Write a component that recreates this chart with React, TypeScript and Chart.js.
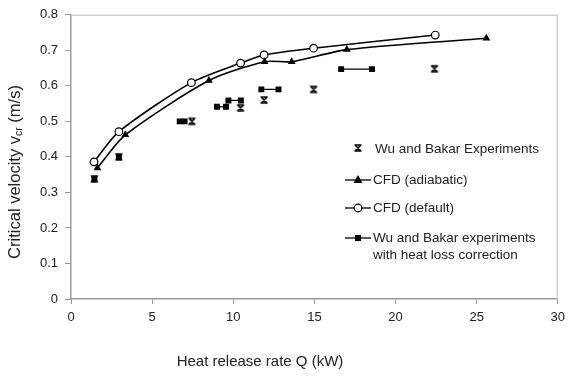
import React, { useEffect, useRef } from "react";
import { Chart, registerables } from "chart.js";

Chart.register(...registerables);

// Wu and Bakar Experiments (crosses)
const expQ = [1.44, 2.95, 7.45, 10.45, 11.9, 14.95, 22.4];
const expV = [0.338, 0.40, 0.50, 0.538, 0.56, 0.59, 0.648];

// CFD (adiabatic)
const adiaQ = [1.63, 3.35, 8.5, 11.93, 13.6, 17.0, 25.6];
const adiaV = [0.369, 0.462, 0.615, 0.668, 0.668, 0.702, 0.734];

// CFD (default)
const defQ = [1.42, 2.95, 7.42, 10.45, 11.9, 14.95, 22.45];
const defV = [0.386, 0.471, 0.609, 0.664, 0.687, 0.706, 0.743];

// Wu and Bakar experiments with heat loss correction (ranges)
const hlQLow = [1.44, 2.95, 6.7, 9.0, 9.7, 11.73, 16.65];
const hlQHigh = [1.44, 2.95, 7.0, 9.55, 10.47, 12.79, 18.55];
const hlV = [0.338, 0.40, 0.50, 0.541, 0.559, 0.59, 0.647];

const xTicks = [0, 5, 10, 15, 20, 25, 30];
const yTicks = [0, 0.1, 0.2, 0.3, 0.4, 0.5, 0.6, 0.7, 0.8];

const FONT = "'Liberation Sans', Arial, sans-serif";

function paintCross(ctx: CanvasRenderingContext2D, x: number, y: number) {
  ctx.save();
  ctx.strokeStyle = "#000";
  ctx.lineWidth = 1.7;
  ctx.beginPath();
  ctx.moveTo(x - 3, y - 3);
  ctx.lineTo(x + 3, y + 3);
  ctx.moveTo(x + 3, y - 3);
  ctx.lineTo(x - 3, y + 3);
  ctx.moveTo(x - 3.5, y - 3);
  ctx.lineTo(x + 3.5, y - 3);
  ctx.moveTo(x - 3.5, y + 3);
  ctx.lineTo(x + 3.5, y + 3);
  ctx.stroke();
  ctx.restore();
}
function makeCrossImage() {
  const c = document.createElement("canvas");
  c.width = 10;
  c.height = 10;
  const g = c.getContext("2d")!;
  paintCross(g, 5, 5);
  return c;
}
function drawTri(ctx: CanvasRenderingContext2D, x: number, y: number) {
  ctx.save();
  ctx.fillStyle = "#000";
  ctx.beginPath();
  ctx.moveTo(x, y - 5);
  ctx.lineTo(x + 4.5, y + 3);
  ctx.lineTo(x - 4.5, y + 3);
  ctx.closePath();
  ctx.fill();
  ctx.restore();
}
function drawCirc(ctx: CanvasRenderingContext2D, x: number, y: number) {
  ctx.save();
  ctx.fillStyle = "#fff";
  ctx.strokeStyle = "#000";
  ctx.lineWidth = 1.2;
  ctx.beginPath();
  ctx.arc(x, y, 3.8, 0, Math.PI * 2);
  ctx.fill();
  ctx.stroke();
  ctx.restore();
}
function drawSq(ctx: CanvasRenderingContext2D, x: number, y: number) {
  ctx.save();
  ctx.fillStyle = "#000";
  ctx.fillRect(x - 3, y - 3, 6, 6);
  ctx.restore();
}
function hline(ctx: CanvasRenderingContext2D, x1: number, x2: number, y: number) {
  ctx.save();
  ctx.strokeStyle = "#000";
  ctx.lineWidth = 1.3;
  ctx.beginPath();
  ctx.moveTo(x1, y);
  ctx.lineTo(x2, y);
  ctx.stroke();
  ctx.restore();
}

const overlay = {
  id: "overlay",
  beforeDatasetsDraw(chart: any) {
    const ctx = chart.ctx as CanvasRenderingContext2D;
    const { left, right, top, bottom } = chart.chartArea;
    ctx.save();
    ctx.strokeStyle = "#cfcfcf";
    ctx.lineWidth = 1.5;
    ctx.beginPath();
    ctx.moveTo(left, top + 0.5);
    ctx.lineTo(right - 0.5, top + 0.5);
    ctx.lineTo(right - 0.5, bottom);
    ctx.stroke();
    ctx.restore();
  },
  afterDraw(chart: any) {
    const ctx = chart.ctx as CanvasRenderingContext2D;
    ctx.save();
    ctx.fillStyle = "#222";
    ctx.textBaseline = "middle";
    ctx.textAlign = "left";
    ctx.font = `13.5px ${FONT}`;

    // legend
    const mx = 358;
    paintCross(ctx, mx, 148);
    ctx.fillText("Wu and Bakar Experiments", 375, 149);

    hline(ctx, 345, 371, 180);
    drawTri(ctx, mx, 180);
    ctx.fillText("CFD (adiabatic)", 373, 180);

    hline(ctx, 345, 371, 208);
    drawCirc(ctx, mx, 208);
    ctx.fillText("CFD (default)", 373, 208);

    hline(ctx, 345, 371, 238);
    drawSq(ctx, mx, 238);
    ctx.fillText("Wu and Bakar experiments", 373, 238);
    ctx.fillText("with heat loss correction", 373, 255);

    // x title
    ctx.font = `15px ${FONT}`;
    ctx.textAlign = "center";
    ctx.fillText("Heat release rate Q (kW)", 260, 362);

    // y title with subscript
    const main1 = "Critical velocity v";
    const sub = "cr";
    const main2 = " (m/s)";
    const big = `16.5px ${FONT}`;
    const small = `10.5px ${FONT}`;
    ctx.font = big;
    const w1 = ctx.measureText(main1).width;
    const w3 = ctx.measureText(main2).width;
    ctx.font = small;
    const w2 = ctx.measureText(sub).width;
    const total = w1 + w2 + w3;
    ctx.translate(15, 172);
    ctx.rotate(-Math.PI / 2);
    ctx.textAlign = "left";
    let cx = -total / 2;
    ctx.font = big;
    ctx.fillText(main1, cx, 0);
    cx += w1;
    ctx.font = small;
    ctx.fillText(sub, cx, 4);
    cx += w2;
    ctx.font = big;
    ctx.fillText(main2, cx, 0);
    ctx.restore();
  },
};

export default function App() {
  const ref = useRef<HTMLCanvasElement | null>(null);
  useEffect(() => {
    if (!ref.current) return;
    const toPts = (xs: number[], ys: number[]) => xs.map((x, i) => ({ x, y: ys[i] }));
    const hlPts: any[] = [];
    hlQLow.forEach((lo, i) => {
      hlPts.push({ x: lo, y: hlV[i] });
      if (hlQHigh[i] !== lo) hlPts.push({ x: hlQHigh[i], y: hlV[i] });
      hlPts.push({ x: hlQHigh[i], y: null });
    });
    const crossImg = makeCrossImage();
    const chart = new Chart(ref.current, {
      type: "line",
      data: {
        datasets: [
          {
            label: "Wu and Bakar experiments with heat loss correction",
            data: hlPts,
            borderColor: "#000",
            backgroundColor: "#000",
            borderWidth: 1.3,
            pointStyle: "rect",
            pointRadius: 4.2,
            pointBorderWidth: 0,
            spanGaps: false,
            order: 0,
          },
          {
            label: "Wu and Bakar Experiments",
            data: toPts(expQ, expV),
            showLine: false,
            borderColor: "#000",
            backgroundColor: "#000",
            pointStyle: crossImg as any,
            pointRadius: 4,
            order: 1,
          },
          {
            label: "CFD (adiabatic)",
            data: toPts(adiaQ, adiaV),
            borderColor: "#000",
            backgroundColor: "#000",
            borderWidth: 1.6,
            pointStyle: "triangle",
            pointRadius: 4.5,
            pointBorderWidth: 0,
            tension: 0.25,
            order: 2,
          },
          {
            label: "CFD (default)",
            data: toPts(defQ, defV),
            borderColor: "#000",
            backgroundColor: "#fff",
            borderWidth: 1.6,
            pointStyle: "circle",
            pointRadius: 3.8,
            pointBorderWidth: 1.2,
            tension: 0.25,
            order: 3,
          },
        ],
      },
      options: {
        animation: false,
        responsive: false,
        maintainAspectRatio: false,
        layout: { padding: { left: 0, top: 12, right: 8, bottom: 0 } },
        plugins: { legend: { display: false }, tooltip: { enabled: false } },
        scales: {
          x: {
            type: "linear",
            min: 0,
            max: 30,
            afterBuildTicks: (s: any) => {
              s.ticks = xTicks.map((v) => ({ value: v }));
            },
            afterFit: (s: any) => {
              s.height = 78;
            },
            ticks: {
              color: "#222",
              font: { family: FONT, size: 13 },
              padding: 6,
              maxRotation: 0,
              callback: (v: any) => String(v),
            },
            grid: { drawOnChartArea: false, drawTicks: true, tickLength: 5, color: "#999" },
            border: { color: "#999", width: 1.5 },
          },
          y: {
            type: "linear",
            min: 0,
            max: 0.8,
            afterBuildTicks: (s: any) => {
              s.ticks = yTicks.map((v) => ({ value: v }));
            },
            afterFit: (s: any) => {
              s.width = 71;
            },
            ticks: {
              color: "#222",
              font: { family: FONT, size: 13 },
              padding: 7,
              callback: (v: any) => (v === 0 ? "0" : Number(v).toFixed(1)),
            },
            grid: { drawOnChartArea: false, drawTicks: true, tickLength: 6, color: "#999" },
            border: { color: "#999", width: 1.5 },
          },
        },
      },
      plugins: [overlay],
    });
    return () => chart.destroy();
  }, []);
  return (
    <div style={{ position: "fixed", left: 0, top: 0, width: 571, height: 377, background: "#fff" }}>
      <canvas ref={ref} width={571} height={377} style={{ display: "block", width: 571, height: 377 }} />
    </div>
  );
}
